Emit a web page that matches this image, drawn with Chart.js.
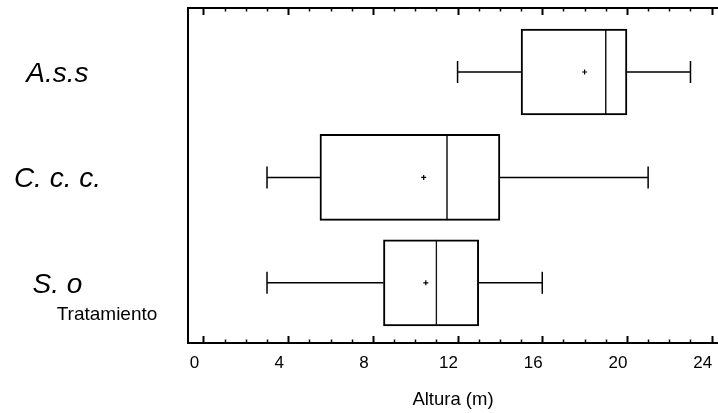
<!DOCTYPE html>
<html>
<head>
<meta charset="utf-8">
<script src="https://cdn.jsdelivr.net/npm/chart.js@4.4.0/dist/chart.umd.min.js"></script>
<style>
  body { margin: 0; background: #fff; }
  #wrap { width: 718px; height: 413px; }
</style>
</head>
<body>
<div id="wrap"><canvas id="box-chart"></canvas></div>
<script>
/*////////////////////////////////
///            Data            ///
////////////////////////////////*/

const categories = ['A.s.s', 'C. c. c.', 'S. o'];
const whiskerLow = [12, 3, 3];
const q1 = [15, 5.5, 8.5];
const medians = [19, 11.5, 11];
const q3 = [20, 14, 13];
const whiskerHigh = [23, 21, 16];
const means = [18, 10.4, 10.5];
const majorStep = 4;

const fontFamily = "'Liberation Sans', Arial, sans-serif";

// boxes split at the median so the shared edge is the median line
let lowerBox = categories.map((c, i) => ({ x: [q1[i], medians[i]], y: i }));
let upperBox = categories.map((c, i) => ({ x: [medians[i], q3[i]], y: i }));

let whiskers = [];
for (let i = 0; i < categories.length; i++) {
  whiskers.push({ x: whiskerLow[i], y: i }, { x: q1[i], y: i }, { x: NaN, y: i });
  whiskers.push({ x: q3[i], y: i }, { x: whiskerHigh[i], y: i }, { x: NaN, y: i });
}
let caps = [];
for (let i = 0; i < categories.length; i++) {
  caps.push({ x: whiskerLow[i], y: i }, { x: whiskerHigh[i], y: i });
}
let meanPoints = categories.map((c, i) => ({ x: means[i], y: i }));

/*////////////////////////////////
///     Inward ticks + text    ///
////////////////////////////////*/

const frameExtras = {
  id: 'frameExtras',
  afterDraw(chart) {
    const ctx = chart.ctx;
    const area = chart.chartArea;
    const xs = chart.scales.x;
    ctx.save();
    ctx.strokeStyle = '#000';
    xs.ticks.forEach(t => {
      let px = Math.round(xs.getPixelForValue(t.value)) + 0.5;
      let major = t.value % majorStep === 0;
      let len = major ? 7 : 3.5;
      ctx.lineWidth = major ? 2 : 1.5;
      ctx.beginPath();
      ctx.moveTo(px, area.bottom);
      ctx.lineTo(px, area.bottom - len);
      ctx.moveTo(px, area.top);
      ctx.lineTo(px, area.top + len);
      ctx.stroke();
    });
    ctx.fillStyle = '#000';
    ctx.font = '19px ' + fontFamily;
    ctx.textAlign = 'center';
    ctx.textBaseline = 'middle';
    ctx.fillText('Tratamiento', 107, 315);
    ctx.restore();
  }
};

// the scales keep no extra padding so the frame sits where the reference has it
function noPad(scale) {
  scale.paddingTop = 0;
  scale.paddingBottom = 0;
  scale.paddingLeft = 0;
  scale.paddingRight = 0;
}

/*////////////////////////////////
///         Box Chart          ///
////////////////////////////////*/

let ctx = document.getElementById('box-chart').getContext('2d');

let boxChart = new Chart(ctx, {
  type: 'bar',
  data: {
    datasets: [{
      label: 'lower',
      data: lowerBox,
      backgroundColor: '#fff',
      borderColor: '#000',
      borderWidth: { top: 2, bottom: 2, left: 2, right: 1 },
      borderSkipped: false,
      barThickness: 86,
      grouped: false,
      order: 3
    }, {
      label: 'upper',
      data: upperBox,
      backgroundColor: '#fff',
      borderColor: '#000',
      borderWidth: { top: 2, bottom: 2, left: 1, right: 2 },
      borderSkipped: false,
      barThickness: 86,
      grouped: false,
      order: 3
    }, {
      type: 'line',
      label: 'whiskers',
      data: whiskers,
      borderColor: '#000',
      borderWidth: 1.5,
      pointRadius: 0,
      spanGaps: false,
      order: 2
    }, {
      type: 'line',
      label: 'caps',
      data: caps,
      showLine: false,
      pointStyle: 'line',
      rotation: 90,
      pointRadius: 11,
      pointBorderWidth: 1.5,
      pointBorderColor: '#000',
      order: 1
    }, {
      type: 'line',
      label: 'mean',
      data: meanPoints,
      showLine: false,
      pointStyle: 'cross',
      rotation: 0,
      pointRadius: 2.5,
      pointBorderWidth: 1.2,
      pointBorderColor: '#000',
      order: 0
    }]
  },
  options: {
    indexAxis: 'y',
    responsive: true,
    maintainAspectRatio: false,
    animation: false,
    layout: { padding: 0, autoPadding: false },
    plugins: {
      legend: { display: false },
      tooltip: { enabled: false }
    },
    scales: {
      x: {
        type: 'linear',
        position: 'bottom',
        min: -0.732,
        max: 24.3,
        grid: { display: true, drawOnChartArea: false, drawTicks: false },
        border: { display: true, color: '#000', width: 2 },
        ticks: {
          stepSize: 1,
          includeBounds: false,
          autoSkip: false,
          maxRotation: 0,
          labelOffset: -9,
          padding: 10,
          color: '#000',
          font: { family: fontFamily, size: 17 },
          callback: v => (v % majorStep === 0 ? String(v) : '')
        },
        title: {
          display: true,
          text: 'Altura (m)',
          color: '#000',
          font: { family: fontFamily, size: 18.5 },
          padding: { top: 0, bottom: 2 }
        },
        afterFit: scale => { scale.height = 70; noPad(scale); }
      },
      x2: {
        type: 'linear',
        position: 'top',
        min: -0.732,
        max: 24.3,
        grid: { display: false, drawTicks: false },
        border: { display: true, color: '#000', width: 2 },
        ticks: { display: false },
        afterFit: scale => { scale.height = 8; noPad(scale); }
      },
      y: {
        type: 'linear',
        reverse: true,
        offset: false,
        min: -0.607,
        max: 2.571,
        grid: { display: false, drawTicks: false },
        border: { display: true, color: '#000', width: 2 },
        afterBuildTicks: scale => {
          scale.ticks = categories.map((c, i) => ({ value: i }));
        },
        ticks: {
          crossAlign: 'center',
          padding: 87,
          labelOffset: 2,
          color: '#000',
          font: { family: fontFamily, size: 28, style: 'italic' },
          callback: v => categories[v]
        },
        afterFit: scale => { scale.width = 188; noPad(scale); }
      }
    }
  },
  plugins: [frameExtras]
});
</script>
</body>
</html>
